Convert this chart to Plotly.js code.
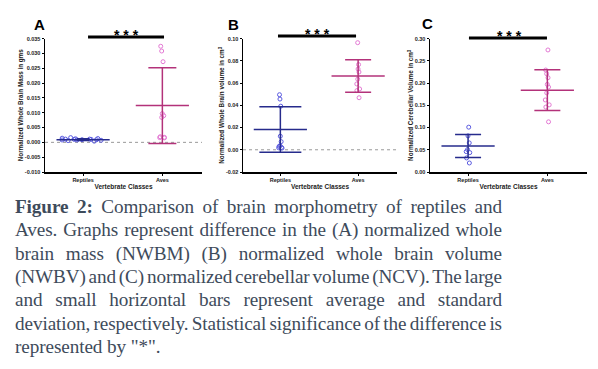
<!DOCTYPE html>
<html>
<head>
<meta charset="utf-8">
<script src="https://cdn.plot.ly/plotly-3.0.1.min.js"></script>
<style>
  html, body { margin:0; padding:0; background:#fff; }
  #wrap { position:relative; width:598px; height:369px; overflow:hidden; }
  #chart { position:absolute; left:0; top:0; width:598px; height:190px; }
  #caption { position:absolute; left:15px; top:195px; width:487px;
    font-family:"Liberation Serif", serif; font-size:19.2px; letter-spacing:-0.1px; line-height:23.35px; color:#3e4b5b; }
  #caption .ln { height:23.35px; white-space:nowrap; }
  #caption .ln span.t { display:inline-block; white-space:nowrap; }
</style>
</head>
<body>
<div id="wrap">
  <div id="chart"></div>
  <div id="caption"></div>
</div>
<script>
// ---- data ----
const groups = ['Reptiles', 'Aves'];

// Panel A: normalized whole brain mass (g)
const reptilesA = [0.0016, 0.0014, 0.0013, 0.0012, 0.0011, 0.0011, 0.0010, 0.0010, 0.0009, 0.0009, 0.0008, 0.0008, 0.0007, 0.0006, 0.0004];
const avesA = [0.0324, 0.0308, 0.0272, 0.0097, 0.0090, 0.0084, 0.0019, 0.0017, 0.0016, 0.0015];
const meanA = [0.0009, 0.0124];
const sdA = [0.0003, 0.0128];

// Panel B: normalized whole brain volume (cm3)
const reptilesB = [0.0495, 0.0456, 0.0392, 0.0122, 0.0073, 0.0036, 0.0030, 0.0021, 0.0018, 0.0015];
const avesB = [0.0963, 0.0766, 0.0726, 0.0699, 0.0635, 0.0592, 0.0547, 0.0532, 0.0468];
const meanB = [0.0182, 0.0664];
const sdB = [0.0205, 0.0146];

// Panel C: normalized cerebellar volume (cm3)
const reptilesC = [0.1008, 0.0812, 0.0654, 0.0504, 0.0459, 0.0436, 0.0316, 0.0203];
const avesC = [0.2744, 0.2293, 0.2210, 0.2120, 0.1970, 0.1910, 0.1780, 0.1620, 0.1510, 0.1460, 0.1128];
const meanC = [0.0586, 0.1840];
const sdC = [0.0258, 0.0458];

// tick labels
const tickValsA = [-0.010, -0.005, 0, 0.005, 0.010, 0.015, 0.020, 0.025, 0.030, 0.035];
const tickTextA = ['-0.010', '-0.005', '0.000', '0.005', '0.010', '0.015', '0.020', '0.025', '0.030', '0.035'];
const tickValsB = [-0.02, 0, 0.02, 0.04, 0.06, 0.08, 0.10];
const tickTextB = ['-0.02', '0.00', '0.02', '0.04', '0.06', '0.08', '0.10'];
const tickValsC = [0, 0.05, 0.10, 0.15, 0.20, 0.25, 0.30];
const tickTextC = ['0.00', '0.05', '0.10', '0.15', '0.20', '0.25', '0.30'];

const titlesY = ['Normalized Whole Brain Mass in gms', 'Normalized Whole Brain volume in cm<sup>3</sup>', 'Normalized Cerebellar Volume in cm<sup>3</sup>'];
const titleX = 'Vertebrate Classes';
const panelLetters = ['A', 'B', 'C'];
const sigText = '* * *';

// caption (line by line as printed)
const captionBold = 'Figure 2:';
const captionLines = [
  'Figure 2: Comparison of brain morphometry of reptiles and',
  'Aves. Graphs represent difference in the (A) normalized whole',
  'brain mass (NWBM) (B) normalized whole brain volume',
  '(NWBV) and (C) normalized cerebellar volume (NCV). The large',
  'and small horizontal bars represent average and standard',
  'deviation, respectively. Statistical significance of the difference is',
  'represented by "*".'
];

// ---- caption: each printed line justified to the column width ----
const cap = document.getElementById('caption');
const colWidth = 487;
captionLines.forEach((line, li) => {
  const div = document.createElement('div');
  div.className = 'ln';
  const span = document.createElement('span');
  span.className = 't';
  if (li === 0 && line.startsWith(captionBold)) {
    const b = document.createElement('b');
    b.textContent = captionBold;
    span.appendChild(b);
    span.appendChild(document.createTextNode(line.slice(captionBold.length)));
  } else {
    span.textContent = line;
  }
  div.appendChild(span);
  cap.appendChild(div);
  if (li < captionLines.length - 1) {
    const w = span.getBoundingClientRect().width;
    const nSpaces = line.split(' ').length - 1;
    span.style.wordSpacing = ((colWidth - w) / nSpaces) + 'px';
  }
});

// ---- styles ----
const repPt = '#5b5be0', repLine = '#262b8c';
const avesPt = '#e47ad4', avesLine = '#b3327a';

function pts(vals, cat, color, jit, ax) {
  return {
    type: 'box', x: vals.map(() => cat), y: vals, xaxis: 'x' + ax, yaxis: 'y' + ax,
    boxpoints: 'all', jitter: jit, pointpos: 0,
    line: {width: 0, color: 'rgba(0,0,0,0)'}, fillcolor: 'rgba(0,0,0,0)',
    marker: {symbol: 'circle-open', size: 4, color: color, line: {width: 1}},
    hoverinfo: 'skip', showlegend: false
  };
}
function meanSd(mean, sd, cat, color, capw, ax) {
  return {
    type: 'scatter', mode: 'markers', x: [cat], y: [mean], xaxis: 'x' + ax, yaxis: 'y' + ax,
    error_y: {type: 'data', array: [sd], visible: true, width: capw, thickness: 1.5, color: color},
    marker: {symbol: 'line-ew', size: 38, color: color, line: {width: 1.5, color: color}},
    hoverinfo: 'skip', showlegend: false
  };
}

const traces = [
  pts(reptilesA, groups[0], repPt, 1.0, ''), pts(avesA, groups[1], avesPt, 0.15, ''),
  meanSd(meanA[0], sdA[0], groups[0], repLine, 6, ''), meanSd(meanA[1], sdA[1], groups[1], avesLine, 14, ''),
  pts(reptilesB, groups[0], repPt, 0.12, '2'), pts(avesB, groups[1], avesPt, 0.07, '2'),
  meanSd(meanB[0], sdB[0], groups[0], repLine, 21, '2'), meanSd(meanB[1], sdB[1], groups[1], avesLine, 13, '2'),
  pts(reptilesC, groups[0], repPt, 0.09, '3'), pts(avesC, groups[1], avesPt, 0.09, '3'),
  meanSd(meanC[0], sdC[0], groups[0], repLine, 13, '3'), meanSd(meanC[1], sdC[1], groups[1], avesLine, 13, '3')
];

const F = 'Liberation Sans, Arial, sans-serif';
function xax(dom) {
  return {
    domain: dom, type: 'category', categoryorder: 'array', categoryarray: groups,
    range: [-0.48, 1.5], showline: true, linecolor: '#000', linewidth: 1.5,
    ticks: 'outside', ticklen: 2, tickwidth: 1, tickcolor: '#000',
    tickfont: {family: F, size: 5.5, color: '#222', weight: 'bold'},
    title: {text: titleX, font: {family: F, size: 6.5, color: '#222', weight: 'bold'}, standoff: 2},
    showgrid: false, zeroline: false, fixedrange: true
  };
}
function yax(range, tv, tt, title, anchor) {
  return {
    domain: [0.0947, 0.797], range: range, anchor: anchor,
    tickvals: tv, ticktext: tt, showline: true, linecolor: '#000', linewidth: 1.5,
    ticks: 'outside', ticklen: 2, tickwidth: 1, tickcolor: '#000',
    tickfont: {family: F, size: 5.5, color: '#222', weight: 'bold'},
    title: {text: title, font: {family: F, size: 6.3, color: '#222', weight: 'bold'}, standoff: 0},
    showgrid: false, zeroline: false, fixedrange: true
  };
}

const sig = (xref, x0, x1, y) => ({type: 'line', xref: xref, yref: 'paper', x0: x0, x1: x1, y0: y, y1: y, line: {color: '#000', width: 3}});
const zero = (xref, yref) => ({type: 'line', xref: xref, yref: yref, x0: 0, x1: 1, y0: 0, y1: 0, line: {color: '#999', width: 1, dash: 'dot'}, layer: 'below'});
const letter = (t, x, y) => ({xref: 'paper', yref: 'paper', x: x / 598, y: 1 - y / 190, xanchor: 'center', yanchor: 'middle', text: t, showarrow: false, font: {family: F, size: 15, color: '#000', weight: 'bold'}});
const stars = (x, y) => ({xref: 'paper', yref: 'paper', x: x / 598, y: 1 - y / 190, xanchor: 'center', yanchor: 'middle', text: sigText, showarrow: false, font: {family: F, size: 14, color: '#000', weight: 'bold'}});

const layout = {
  width: 598, height: 190, margin: {l: 0, r: 0, t: 0, b: 0},
  paper_bgcolor: '#fff', plot_bgcolor: '#fff', showlegend: false, boxmode: 'overlay', boxgap: 0,
  xaxis: Object.assign(xax([0.0753, 0.3378]), {anchor: 'y'}),
  yaxis: yax([-0.010, 0.035], tickValsA, tickTextA, titlesY[0], 'x'),
  xaxis2: Object.assign(xax([0.4064, 0.6639]), {anchor: 'y2'}),
  yaxis2: yax([-0.02, 0.10], tickValsB, tickTextB, titlesY[1], 'x2'),
  xaxis3: Object.assign(xax([0.7191, 0.9816]), {anchor: 'y3'}),
  yaxis3: yax([0, 0.30], tickValsC, tickTextC, titlesY[2], 'x3'),
  shapes: [
    zero('x domain', 'y'), zero('x2 domain', 'y2'),
    sig('x domain', 0.274, 0.758, 0.805), sig('x2 domain', 0.227, 0.734, 0.81), sig('x3 domain', 0.248, 0.745, 0.8)
  ],
  annotations: [
    letter(panelLetters[0], 39, 25), letter(panelLetters[1], 233, 25), letter(panelLetters[2], 427, 24),
    stars(126, 35), stars(317, 34), stars(509, 36)
  ]
};

Plotly.newPlot('chart', traces, layout, {displayModeBar: false, staticPlot: true});
</script>
</body>
</html>
